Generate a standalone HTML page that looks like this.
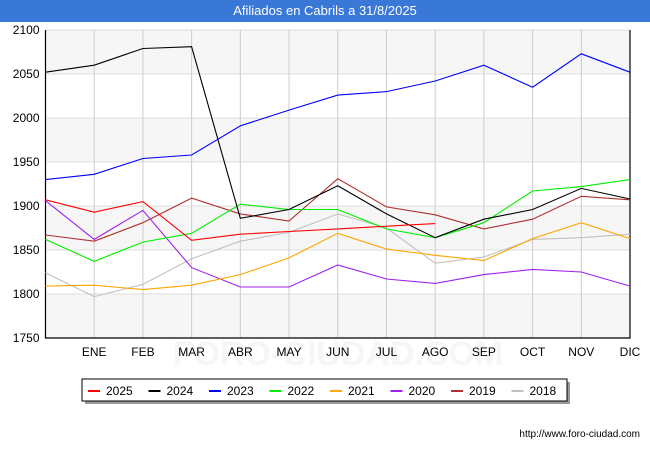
<!DOCTYPE html>
<html><head><meta charset="utf-8"><style>
body{margin:0;width:650px;height:450px;background:#fff;font-family:"Liberation Sans",sans-serif;position:relative;overflow:hidden}
#title{position:absolute;left:0;top:0;width:650px;height:22px;background:#3a78d8;color:#fff;font-size:13px;text-align:center;line-height:22px}
svg{position:absolute;left:0;top:0}
</style></head><body>
<div id="title">Afiliados en Cabrils a 31/8/2025</div>
<svg id="c" width="650" height="450"></svg>
<script>
const months=["","ENE","FEB","MAR","ABR","MAY","JUN","JUL","AGO","SEP","OCT","NOV","DIC"];
const yTicks=[1750,1800,1850,1900,1950,2000,2050,2100];
const seriesNames=["2025","2024","2023","2022","2021","2020","2019","2018"];
const colors=["#ff0000","#000000","#0000ff","#00ee00","#ffa500","#a020f0","#b03030","#c0c0c0"];
const s2025=[1907,1893,1905,1861,1868,1871,1874,1877,1880];
const s2024=[2052,2060,2079,2081,1886,1896,1923,1891,1864,1885,1896,1920,1908];
const s2023=[1930,1936,1954,1958,1991,2009,2026,2030,2042,2060,2035,2073,2052];
const s2022=[1862,1837,1859,1869,1902,1896,1896,1874,1864,1881,1917,1922,1930];
const s2021=[1809,1810,1805,1810,1822,1841,1869,1851,1844,1838,1863,1881,1863];
const s2020=[1906,1862,1895,1830,1808,1808,1833,1817,1812,1822,1828,1825,1809];
const s2019=[1867,1860,1881,1909,1891,1883,1931,1899,1890,1874,1885,1911,1907];
const s2018=[1824,1797,1811,1840,1860,1870,1891,1875,1835,1842,1862,1864,1868];
const allSeries=[s2025,s2024,s2023,s2022,s2021,s2020,s2019,s2018];
const svg=document.getElementById('c'),NS="http://www.w3.org/2000/svg";
const L=45.5,R=630,T=30,B=338;
const x=i=>L+i*(R-L)/12;
const y=v=>B-(v-1750)*(B-T)/350;
function mk(t,a,p){const e=document.createElementNS(NS,t);for(const k in a)e.setAttribute(k,a[k]);(p||svg).appendChild(e);return e;}
for(let i=0;i<yTicks.length-1;i+=2){
 const b=mk('rect',{x:L,y:y(yTicks[i+1]),width:R-L,height:y(yTicks[i])-y(yTicks[i+1]),fill:"#f6f6f6"});
 
}
const wm=mk('text',{x:338,y:365,'font-size':34,fill:"#f6f6f6",'text-anchor':'middle','font-weight':'bold'});wm.textContent="FORO-CIUDAD.COM";

yTicks.forEach(v=>{
 const g=mk('line',{x1:L,x2:R,y1:y(v),y2:y(v),stroke:"#dddddd"});
 
 const t=mk('text',{x:L-6,y:y(v)+4,'font-size':12,'text-anchor':'end',fill:"#000"});t.textContent=v;
 
});
months.forEach((m,i)=>{
 if(i>0){const g=mk('line',{x1:x(i),x2:x(i),y1:T,y2:B,stroke:"#cccccc"});
 }
 const t=mk('text',{x:x(i),y:B+18,'font-size':12,'text-anchor':'middle'});t.textContent=m;
 
});
const ax=mk('path',{d:`M${L},${T}V${B}H${R}V${T}`,fill:"none",stroke:"#000",'stroke-width':1.2});

for(let k=allSeries.length-1;k>=0;k--){
 const pts=allSeries[k].map((v,i)=>x(i).toFixed(1)+","+y(v).toFixed(1)).join(" ");
 const p=mk('polyline',{points:pts,fill:"none",stroke:colors[k],'stroke-width':1.1});
 
}
const lg=mk('g',{});
mk('rect',{x:85,y:382,width:485,height:22,fill:"#999"},lg);
mk('rect',{x:82,y:379,width:485,height:22,fill:"#fff",stroke:"#000"},lg);
seriesNames.forEach((n,k)=>{
 const lx=88+k*60.5;
 const ln=mk('line',{x1:lx,x2:lx+12,y1:391,y2:391,stroke:colors[k],'stroke-width':2},lg);
 
 const t=mk('text',{x:lx+18,y:395,'font-size':12},lg);t.textContent=n;
 
});
const u=mk('text',{x:640,y:437,'font-size':10,'text-anchor':'end'});u.textContent="http://www.foro-ciudad.com";

</script>
</body></html>
